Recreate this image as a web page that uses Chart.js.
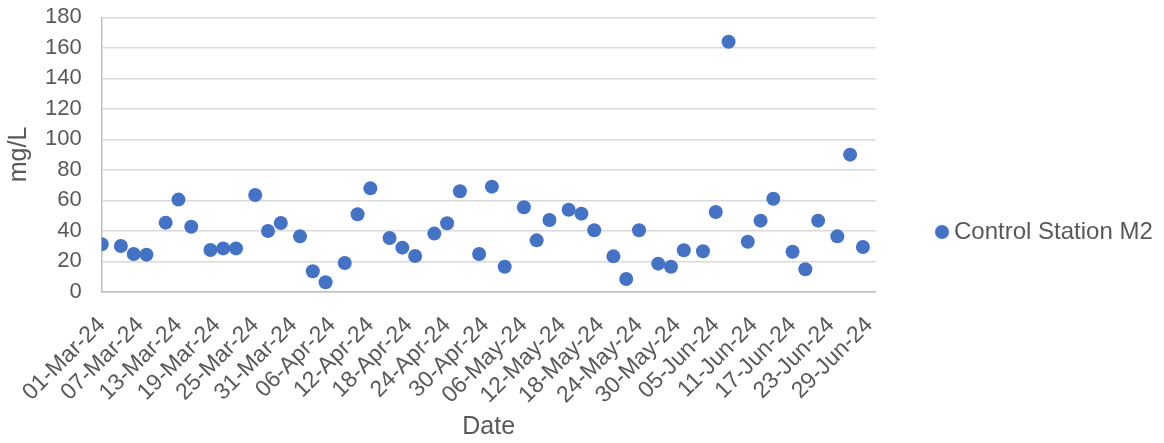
<!DOCTYPE html>
<html>
<head>
<meta charset="utf-8">
<script src="https://cdn.jsdelivr.net/npm/chart.js@4.4.1/dist/chart.umd.min.js"></script>
<style>
  html, body { margin: 0; padding: 0; background: #ffffff; }
  #wrap { width: 1164px; height: 443px; position: relative; }
</style>
</head>
<body>
<div id="wrap"><canvas id="c"></canvas></div>
<script>
// ---- data ----
const seriesName = "Control Station M2";
const dates = [
  "2024-03-01","2024-03-04","2024-03-06","2024-03-08","2024-03-11","2024-03-13","2024-03-15",
  "2024-03-18","2024-03-20","2024-03-22","2024-03-25","2024-03-27","2024-03-29",
  "2024-04-01","2024-04-03","2024-04-05","2024-04-08","2024-04-10","2024-04-12",
  "2024-04-15","2024-04-17","2024-04-19","2024-04-22","2024-04-24","2024-04-26","2024-04-29",
  "2024-05-01","2024-05-03","2024-05-06","2024-05-08","2024-05-10","2024-05-13","2024-05-15",
  "2024-05-17","2024-05-20","2024-05-22","2024-05-24","2024-05-27","2024-05-29","2024-05-31",
  "2024-06-03","2024-06-05","2024-06-07","2024-06-10","2024-06-12","2024-06-14",
  "2024-06-17","2024-06-19","2024-06-21","2024-06-24","2024-06-26","2024-06-28"
];
const values = [
  31.1, 30.0, 24.7, 24.3, 45.3, 60.4, 42.6,
  27.4, 28.4, 28.4, 63.4, 39.8, 45.1,
  36.3, 13.4, 6.2, 18.8, 50.8, 67.8,
  35.2, 28.9, 23.4, 38.1, 44.9, 65.9, 24.7,
  68.9, 16.4, 55.4, 33.7, 47.0, 53.8, 51.2,
  40.3, 23.2, 8.3, 40.3, 18.4, 16.4, 27.2,
  26.5, 52.3, 164.0, 32.8, 46.6, 61.0,
  26.2, 14.7, 46.6, 36.3, 89.9, 29.3
];
const xAxisStart = "2024-03-01";
const xAxisEnd = "2024-06-30";
const xTickStepDays = 6;
const yMin = 0, yMax = 180, yStep = 20;
const monthNames = ["Jan","Feb","Mar","Apr","May","Jun","Jul","Aug","Sep","Oct","Nov","Dec"];

// ---- helpers ----
const DAY = 86400000;
function toUTC(s) { const p = s.split("-").map(Number); return Date.UTC(p[0], p[1]-1, p[2]); }
const startUTC = toUTC(xAxisStart);
function dayOffset(s) { return Math.round((toUTC(s) - startUTC) / DAY); }
function fmtDate(off) {
  const d = new Date(startUTC + off * DAY);
  const dd = String(d.getUTCDate()).padStart(2, "0");
  const yy = String(d.getUTCFullYear() % 100).padStart(2, "0");
  return dd + "-" + monthNames[d.getUTCMonth()] + "-" + yy;
}
const points = dates.map((d, i) => ({ x: dayOffset(d), y: values[i] }));

const textColor = "#595959";
const fontFamily = "'Liberation Sans', Arial, sans-serif";

const legendPlugin = {
  id: "sideLegend",
  afterDraw(chart) {
    const ctx = chart.ctx;
    const ds = chart.data.datasets[0];
    ctx.save();
    ctx.fillStyle = ds.backgroundColor;
    ctx.beginPath();
    ctx.arc(942, 232, 7, 0, Math.PI * 2);
    ctx.fill();
    ctx.fillStyle = textColor;
    ctx.font = "24px " + fontFamily;
    ctx.textBaseline = "middle";
    ctx.textAlign = "left";
    ctx.fillText(ds.label, 954, 232);
    ctx.restore();
  }
};

new Chart(document.getElementById("c"), {
  type: "scatter",
  data: {
    datasets: [{
      label: seriesName,
      data: points,
      backgroundColor: "#4472C4",
      borderColor: "#4472C4",
      borderWidth: 0,
      pointRadius: 7,
      pointHoverRadius: 7
    }]
  },
  options: {
    responsive: true,
    maintainAspectRatio: false,
    animation: false,
    layout: { padding: { top: 17.3, left: 0, right: 288.3, bottom: 0 } },
    plugins: { legend: { display: false }, tooltip: { enabled: false } },
    scales: {
      x: {
        type: "linear",
        min: dayOffset(xAxisStart),
        max: dayOffset(xAxisEnd),
        afterFit(scale) {
          scale.height = 443 - 291.7;
          scale.paddingLeft = 0; scale.paddingRight = 0;
        },
        ticks: {
          stepSize: xTickStepDays,
          includeBounds: false,
          autoSkip: false,
          minRotation: 45,
          maxRotation: 45,
          padding: 20,
          color: textColor,
          font: { family: fontFamily, size: 23 },
          callback: (v) => fmtDate(v)
        },
        grid: { display: false, drawTicks: false },
        border: { display: true, color: "#bfbfbf", width: 1.5 },
        title: {
          display: true, text: "Date", color: textColor,
          font: { family: fontFamily, size: 25 },
          padding: { top: 0, bottom: 1 }
        }
      },
      y: {
        min: yMin, max: yMax,
        afterFit(scale) {
          scale.width = 101.7;
          scale.paddingTop = 0; scale.paddingBottom = 0;
        },
        ticks: {
          stepSize: yStep,
          autoSkip: false,
          padding: 20,
          color: textColor,
          font: { family: fontFamily, size: 22 }
        },
        grid: { color: "#d9d9d9", lineWidth: 1.4, drawTicks: false },
        border: { display: true, color: "#bfbfbf", width: 1.5 },
        title: {
          display: true, text: "mg/L", color: textColor,
          font: { family: fontFamily, size: 25 },
          padding: { top: 4, bottom: 0 }
        }
      }
    }
  },
  plugins: [legendPlugin]
});
</script>
</body>
</html>
